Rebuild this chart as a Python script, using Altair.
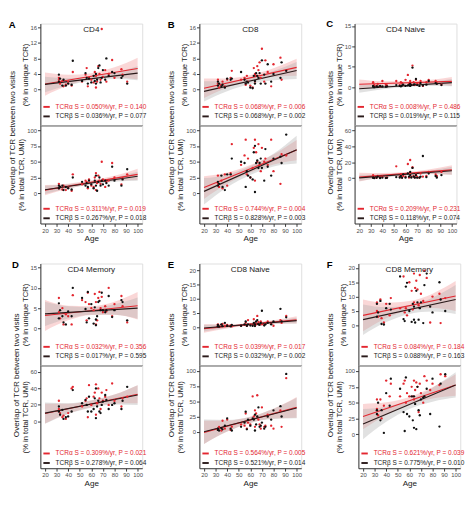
import altair as alt
import pandas as pd

# ---------------- shared values ----------------
AGES = [32, 32, 33, 35, 36, 38, 40, 43, 44, 52, 55, 56, 57, 58, 60, 62, 63,
        64, 64, 65, 66, 67, 68, 69, 70, 72, 73, 75, 78, 80, 86, 87, 91]
FIT_AGES = [20, 100]
BAND_AGES = [20, 40, 60, 80, 100]
X_TICKS = [20, 30, 40, 50, 60, 70, 80, 90, 100]
X_DOMAIN = [16, 104]

PANEL_KEYS = ["A", "B", "C", "D", "E", "F"]
PANEL_NAMES = ["CD4", "CD8", "CD4 Naive", "CD4 Memory", "CD8 Naive", "CD8 Memory"]
Y_TITLE = "Overlap of TCR between two visits"
TOP_SUB = "(% in unique TCR)"
BOT_SUB = "(% in total TCR, UMI)"

# ---------------- A : CD4 ----------------
A_TOP_PTS_A = [2.5, 3.0, 1.5, 2.2, 0.8, 1.2, 2.0, 1.0, 4.5, 2.0, 3.8, 5.5, 0.8, 3.0, 2.5, 1.8, 4.5,
               0.5, 3.5, 2.0, 6.0, 4.0, 2.5, 15.6, 3.2, 5.0, 2.0, 4.0, 7.6, 3.0, 5.2, 3.8, 2.0]
A_TOP_PTS_B = [3.8, 2.0, 2.8, 1.0, 2.5, 1.0, 1.5, 1.2, 7.4, 2.2, 4.2, 3.0, 1.5, 2.8, 1.8, 3.5, 2.2,
               1.5, 4.0, 2.5, 5.5, 6.2, 1.8, 3.0, 5.0, 2.5, 8.0, 3.5, 4.5, 4.2, 3.0, 3.5, 1.5]
A_TOP_FIT_A = [1.4, 5.4]
A_TOP_FIT_B = [1.3, 4.2]
A_TOP_LO_A = [-1.6, 1.0, 2.6, 3.1, 2.6]
A_TOP_HI_A = [4.4, 3.8, 4.2, 5.7, 8.2]
A_TOP_LO_B = [-0.7, 1.1, 2.25, 2.7, 2.4]
A_TOP_HI_B = [3.3, 2.9, 3.25, 4.3, 6.0]
A_TOP_LEGEND = ["TCRα S = 0.050%/yr, P = 0.140", "TCRβ S = 0.036%/yr, P = 0.077"]
A_TOP_TICKS = [0, 4, 8, 12, 16]
A_TOP_DOMAIN = [-9.3, 17]

A_BOT_PTS_A = [8, 15, 10, 6, 12, 5, 9, 4, 30, 14, 20, 18, 8, 22, 12, 10, 25,
               5, 32, 16, 28, 20, 15, 50, 22, 10, 18, 20, 48, 25, 14, 24, 30]
A_BOT_PTS_B = [12, 8, 10, 12, 5, 10, 8, 6, 25, 18, 12, 16, 10, 20, 14, 8, 20,
               12, 28, 4, 18, 25, 12, 20, 14, 20, 16, 12, 42, 20, 12, 22, 38]
A_BOT_FIT_A = [5, 30]
A_BOT_FIT_B = [5.5, 27]
A_BOT_LO_A = [-3, 7.2, 14.5, 19.7, 21]
A_BOT_HI_A = [13, 15.2, 20.5, 27.7, 39]
A_BOT_LO_B = [-1, 7.7, 13.75, 18.4, 20]
A_BOT_HI_B = [12, 14.1, 18.75, 24.8, 34]
A_BOT_LEGEND = ["TCRα S = 0.311%/yr, P = 0.019", "TCRβ S = 0.267%/yr, P = 0.018"]
A_BOT_TICKS = [0, 25, 50, 75, 100]
A_BOT_DOMAIN = [-48, 107.5]

# ---------------- B : CD8 ----------------
B_TOP_PTS_A = [2.5, 1.5, 0.5, 1.0, 2.0, 0.8, 2.5, 3.0, 4.8, 2.5, 3.0, 1.2, 3.5, 2.0, 1.0, 0.5, 5.5,
               4.0, 2.0, 3.5, 6.0, 5.0, 7.0, 3.0, 10.5, 2.0, 7.5, 4.5, 0.8, 6.5, 8.2, 2.5, 4.8]
B_TOP_PTS_B = [2.0, 1.0, 1.5, 0.8, 1.2, 0.5, 2.8, 2.5, 2.8, 4.5, 2.5, 1.5, 2.0, 1.8, 0.5, 0.3, 3.5,
               2.2, 1.5, 4.2, 3.5, 3.0, 4.2, 1.5, 7.5, 3.8, 1.5, 6.5, 2.0, 4.0, 3.0, 7.0, 4.8]
B_TOP_FIT_A = [0.3, 5.7]
B_TOP_FIT_B = [-0.5, 4.9]
B_TOP_LO_A = [-2.2, 0.45, 2.3, 3.25, 3.5]
B_TOP_HI_A = [2.8, 2.85, 3.7, 5.45, 7.9]
B_TOP_LO_B = [-3.1, -0.45, 1.4, 2.35, 2.7]
B_TOP_HI_B = [2.1, 2.15, 3.0, 4.75, 7.1]
B_TOP_LEGEND = ["TCRα S = 0.068%/yr, P = 0.006", "TCRβ S = 0.068%/yr, P = 0.002"]
B_TOP_TICKS = [0, 4, 8, 12, 16]
B_TOP_DOMAIN = [-9.3, 17]

B_BOT_PTS_A = [15, 28, 10, 20, 8, 30, 12, 32, 78, 45, 60, 85, 30, 55, 25, 40, 72,
               20, 85, 65, 50, 78, 45, 35, 72, 50, 55, 45, 85, 35, 15, 62, 60]
B_BOT_PTS_B = [12, 18, 15, 28, 10, 5, 30, 30, 55, 50, 48, 10, 35, 28, 25, 22, 65,
               2, 75, 48, 52, 40, 48, 55, 40, 20, 70, 42, 28, 55, 58, 48, 93]
B_BOT_FIT_A = [9, 68.5]
B_BOT_FIT_B = [3, 69]
B_BOT_LO_A = [-9, 14.9, 32.75, 45.6, 52.5]
B_BOT_HI_A = [27, 32.9, 44.75, 61.6, 84.5]
B_BOT_LO_B = [-18, 9.5, 29, 42.5, 47]
B_BOT_HI_B = [24, 29.5, 43, 62.5, 91]
B_BOT_LEGEND = ["TCRα S = 0.744%/yr, P = 0.004", "TCRβ S = 0.828%/yr, P = 0.003"]
B_BOT_TICKS = [0, 25, 50, 75, 100]
B_BOT_DOMAIN = [-48, 107.5]

# ---------------- C : CD4 Naive ----------------
C_TOP_PTS_A = [1.0, 1.2, 0.5, 0.3, 0.8, 0.2, 1.5, 0.6, 0.4, 1.5, 0.5, 1.2, 1.0, 0.5, 1.8, 3.0, 0.8,
               1.0, 1.5, 0.6, 5.3, 1.2, 0.5, 1.8, 0.8, 1.0, 1.5, 0.3, 1.2, 1.8, 1.5, 1.0, 0.6]
C_TOP_PTS_B = [0.1, 0.3, 0.0, 0.2, 0.1, 0.3, 0.2, 0.1, 0.2, 0.5, 0.3, 0.2, 0.4, 0.6, 0.3, 0.4, 0.5,
               0.3, 0.8, 0.5, 4.8, 0.6, 0.7, 2.0, 0.5, 0.3, 1.0, 0.4, 0.6, 1.5, 1.0, 0.8, 0.5]
C_TOP_FIT_A = [0.7, 1.4]
C_TOP_FIT_B = [-0.4, 1.1]
C_TOP_LO_A = [-0.5, 0.275, 0.65, 0.725, 0.3]
C_TOP_HI_A = [1.9, 1.475, 1.45, 1.725, 2.5]
C_TOP_LO_B = [-1.4, -0.525, 0.05, 0.275, 0.2]
C_TOP_HI_B = [0.6, 0.475, 0.65, 1.175, 2.0]
C_TOP_LEGEND = ["TCRα S = 0.008%/yr, P = 0.486", "TCRβ S = 0.019%/yr, P = 0.115"]
C_TOP_TICKS = [0, 5, 10, 15]
C_TOP_DOMAIN = [-9.4, 15.6]

C_BOT_PTS_A = [2, 4, 1, 0.5, 3, 1, 2, 0.5, 1, 15, 2, 5, 1, 3, 2, 18, 1,
               23, 6, 2, 14, 3, 1, 5, 2, 0.5, 6, 2, 3, 8, 5, 3, 8]
C_BOT_PTS_B = [0.5, 1, 0.3, 0.5, 2, 0.3, 0.8, 0.2, 0.5, 1.5, 1, 3, 0.5, 5, 1, 6, 2,
               8, 4, 1, 13, 2, 1, 4, 0.5, 1, 2, 28, 1.5, 6, 3, 1, 4]
C_BOT_FIT_A = [1.5, 10.5]
C_BOT_FIT_B = [0.5, 9.5]
C_BOT_LO_A = [-4, 0.95, 4, 5.45, 4.5]
C_BOT_HI_A = [7, 6.55, 8, 11.05, 16.5]
C_BOT_LO_B = [-3.5, 0.75, 3.5, 5.25, 4.5]
C_BOT_HI_B = [4.5, 4.75, 6.5, 9.25, 14.5]
C_BOT_LEGEND = ["TCRα S = 0.209%/yr, P = 0.231", "TCRβ S = 0.118%/yr, P = 0.074"]
C_BOT_TICKS = [0, 20, 40, 60]
C_BOT_DOMAIN = [-57, 66.5]

# ---------------- D : CD4 Memory ----------------
D_TOP_PTS_A = [7.5, 4.0, 2.5, 5.0, 1.0, 3.5, 3.0, 1.0, 8.2, 7.0, 6.5, 2.0, 8.8, 6.0, 5.0, 4.5, 8.5,
               1.0, 6.5, 2.0, 7.5, 9.0, 5.0, 7.8, 4.0, 5.5, 4.2, 10.0, 3.0, 6.0, 8.0, 5.5, 1.5]
D_TOP_PTS_B = [6.2, 2.5, 4.5, 3.0, 1.5, 1.0, 4.2, 3.0, 10.0, 7.5, 4.8, 1.5, 9.0, 2.5, 6.0, 1.2, 5.2,
               0.8, 2.2, 3.0, 6.5, 6.8, 4.5, 8.8, 4.5, 4.0, 4.5, 8.0, 2.8, 4.5, 7.0, 6.5, 2.0]
D_TOP_FIT_A = [3.2, 5.6]
D_TOP_FIT_B = [3.6, 5.0]
D_TOP_LO_A = [-0.6, 2.0, 3.3, 3.4, 2.2]
D_TOP_HI_A = [7.0, 5.6, 5.5, 6.6, 9.0]
D_TOP_LO_B = [0.6, 2.45, 3.4, 3.35, 2.4]
D_TOP_HI_B = [6.6, 5.45, 5.2, 5.95, 7.6]
D_TOP_LEGEND = ["TCRα S = 0.032%/yr, P = 0.356", "TCRβ S = 0.017%/yr, P = 0.595"]
D_TOP_TICKS = [0, 5, 10, 15]
D_TOP_DOMAIN = [-9.1, 16]

D_BOT_PTS_A = [25, 15, 10, 5, 7, 3, 10, 40, 42, 18, 25, 28, 5, 44, 20, 30, 35,
               8, 45, 22, 40, 28, 15, 35, 25, 30, 38, 20, 46, 25, 18, 28, 30]
D_BOT_PTS_B = [18, 12, 8, 14, 3, 5, 6, 12, 38, 22, 26, 20, 12, 30, 12, 15, 28,
               4, 40, 18, 25, 12, 10, 20, 24, 32, 26, 15, 20, 22, 15, 25, 42]
D_BOT_FIT_A = [9.5, 33]
D_BOT_FIT_B = [10, 32]
D_BOT_LO_A = [-2.5, 9.4, 17.25, 21.6, 22]
D_BOT_HI_A = [21.5, 21.4, 25.25, 32.6, 44]
D_BOT_LO_B = [-3, 9, 16.5, 20.5, 20]
D_BOT_HI_B = [23, 22, 25.5, 32.5, 44]
D_BOT_LEGEND = ["TCRα S = 0.309%/yr, P = 0.021", "TCRβ S = 0.278%/yr, P = 0.064"]
D_BOT_TICKS = [0, 20, 40, 60]
D_BOT_DOMAIN = [-57, 68]

# ---------------- E : CD8 Naive ----------------
E_TOP_PTS_A = [0.5, 1.0, 0.3, 0.8, 1.2, 0.5, 0.8, 0.6, 0.3, 0.5, 0.8, 1.5, 0.5, 2.5, 1.0, 0.8, 2.8,
               0.5, 1.5, 1.0, 4.0, 1.8, 1.0, 2.0, 1.0, 0.8, 1.5, 2.0, 1.2, 0.5, 2.5, 1.5, 4.0]
E_TOP_PTS_B = [0.3, 0.8, 0.2, 1.0, 0.4, 1.5, 0.5, 0.3, 0.8, 0.5, 1.0, 2.0, 0.5, 1.0, 0.6, 0.5, 1.5,
               0.4, 1.0, 2.0, 2.5, 1.0, 0.8, 1.5, 5.8, 0.6, 1.0, 1.5, 1.0, 2.0, 6.5, 2.0, 3.5]
E_TOP_FIT_A = [-0.5, 2.6]
E_TOP_FIT_B = [-0.3, 2.3]
E_TOP_LO_A = [-2.0, -0.425, 0.65, 1.225, 1.3]
E_TOP_HI_A = [1.0, 0.975, 1.45, 2.425, 3.9]
E_TOP_LO_B = [-1.5, -0.2, 0.7, 1.15, 1.3]
E_TOP_HI_B = [0.9, 0.9, 1.3, 2.15, 3.3]
E_TOP_LEGEND = ["TCRα S = 0.039%/yr, P = 0.017", "TCRβ S = 0.032%/yr, P = 0.002"]
E_TOP_TICKS = [0, 5, 10, 15, 20]
E_TOP_DOMAIN = [-13.5, 22.5]

E_BOT_PTS_A = [3, 5, 8, 2, 18, 5, 20, 3, 8, 12, 10, 30, 5, 15, 12, 58, 25,
               8, 35, 30, 60, 20, 12, 5, 40, 8, 10, 28, 10, 5, 35, 8, 88]
E_BOT_PTS_B = [5, 3, 2, 6, 4, 10, 22, 5, 2, 8, 15, 33, 4, 20, 10, 22, 20,
               2, 28, 12, 25, 40, 8, 10, 15, 5, 8, 25, 20, 35, 42, 25, 95]
E_BOT_FIT_A = [-1, 40]
E_BOT_FIT_B = [0, 39]
E_BOT_LO_A = [-20, 0.25, 14.5, 21.75, 23]
E_BOT_HI_A = [18, 18.25, 24.5, 37.75, 57]
E_BOT_LO_B = [-20, 0.25, 14.5, 20.75, 22]
E_BOT_HI_B = [20, 19.25, 24.5, 37.75, 56]
E_BOT_LEGEND = ["TCRα S = 0.564%/yr, P = 0.005", "TCRβ S = 0.521%/yr, P = 0.014"]
E_BOT_TICKS = [0, 25, 50, 75, 100]
E_BOT_DOMAIN = [-60, 109]

# ---------------- F : CD8 Memory ----------------
F_TOP_PTS_A = [5.0, 8.0, 3.0, 9.0, 2.5, 1.0, 7.5, 3.5, 9.5, 6.0, 17.0, 4.5, 6.0, 3.5, 15.0, 12.0, 5.5,
               18.0, 8.0, 13.0, 15.5, 12.5, 7.0, 17.5, 11.0, 8.5, 19.0, 16.5, 1.0, 10.0, 11.0, 0.8, 9.5]
F_TOP_PTS_B = [3.0, 7.5, 4.5, 8.5, 0.5, 0.3, 6.0, 7.5, 5.5, 17.0, 2.2, 1.5, 13.5, 14.8, 5.0, 1.2, 7.5,
               2.0, 6.5, 1.0, 12.0, 8.0, 2.0, 6.0, 8.0, 0.8, 14.0, 18.0, 6.5, 4.5, 15.0, 9.0, 5.0]
F_TOP_FIT_A = [3.5, 10.2]
F_TOP_FIT_B = [2.0, 9.0]
F_TOP_LO_A = [-2.0, 2.475, 5.25, 6.025, 5.0]
F_TOP_HI_A = [9.0, 7.875, 8.45, 11.025, 15.4]
F_TOP_LO_B = [-3.3, 1.15, 4.0, 4.85, 4.0]
F_TOP_HI_B = [7.3, 6.35, 7.0, 9.65, 14.0]
F_TOP_LEGEND = ["TCRα S = 0.084%/yr, P = 0.184", "TCRβ S = 0.088%/yr, P = 0.163"]
F_TOP_TICKS = [0, 5, 10, 15, 20]
F_TOP_DOMAIN = [-13.9, 21.5]

F_BOT_PTS_A = [55, 40, 30, 55, 25, 45, 85, 60, 80, 60, 80, 85, 50, 65, 60, 75, 60,
               85, 55, 70, 82, 75, 35, 80, 65, 50, 92, 85, 70, 80, 78, 95, 92]
F_BOT_PTS_B = [38, 32, 50, 22, 38, 2, 65, 45, 88, 72, 35, 5, 90, 32, 28, 60, 22,
               10, 60, 48, 8, 75, 38, 30, 55, 58, 60, 72, 32, 88, 12, 80, 95]
F_BOT_FIT_A = [28, 78]
F_BOT_FIT_B = [16, 78]
F_BOT_LO_A = [8, 30.5, 47, 56.5, 61]
F_BOT_HI_A = [48, 50.5, 59, 74.5, 95]
F_BOT_LO_B = [-8, 19.5, 40, 51.5, 58]
F_BOT_HI_B = [40, 43.5, 54, 73.5, 98]
F_BOT_LEGEND = ["TCRα S = 0.621%/yr, P = 0.039", "TCRβ S = 0.775%/yr, P = 0.010"]
F_BOT_TICKS = [0, 25, 50, 75, 100]
F_BOT_DOMAIN = [-54, 109]

# ---------------- styling ----------------
FONT = "Liberation Sans"
RED = "#e3262f"
DARK = "#2a1a1a"
PT_DARK = "#111111"
PINK = "#f08c8c"
GREY = "#a8a8a8"
AXIS_COL = "#333333"
LABEL_COL = "#4d4d4d"

WIDTH = 107
ROW_HEIGHTS = [(107, 103), (107, 108)]


def indep(ch):
    return (ch.resolve_scale(color="independent", fill="independent", stroke="independent")
              .resolve_legend(color="independent", fill="independent", stroke="independent"))


def subplot(key, height, top, name=None):
    g = globals()
    leg = g[key + "_LEGEND"]
    n = len(AGES)
    pts = pd.DataFrame({"age": AGES + AGES,
                        "v": g[key + "_PTS_A"] + g[key + "_PTS_B"],
                        "s": [leg[0]] * n + [leg[1]] * n})
    fit = pd.DataFrame({"age": FIT_AGES + FIT_AGES,
                        "v": g[key + "_FIT_A"] + g[key + "_FIT_B"],
                        "s": [leg[0]] * 2 + [leg[1]] * 2})
    band = pd.DataFrame({"age": BAND_AGES + BAND_AGES,
                         "lo": g[key + "_LO_A"] + g[key + "_LO_B"],
                         "hi": g[key + "_HI_A"] + g[key + "_HI_B"],
                         "s": [leg[0]] * 5 + [leg[1]] * 5})

    yaxis = alt.Axis(values=g[key + "_TICKS"], title=TOP_SUB if top else BOT_SUB,
                     grid=False, tickSize=3, labelFontSize=6.2, titleFontSize=8,
                     titleFontWeight="normal", labelPadding=1, titlePadding=1,
                     domainColor=AXIS_COL, tickColor=AXIS_COL, labelColor=LABEL_COL,
                     titleColor="#222222", labelFont=FONT, titleFont=FONT,
                     labelOverlap=False)
    if top:
        xaxis = alt.Axis(labels=False, ticks=False, title=None, grid=False,
                         domainColor=AXIS_COL, domainWidth=1.2)
    else:
        xaxis = alt.Axis(values=X_TICKS, title="Age", grid=False, tickSize=3,
                         labelFontSize=6.2, titleFontSize=8.5, titleFontWeight="normal",
                         labelPadding=1, titlePadding=1, domainColor=AXIS_COL,
                         tickColor=AXIS_COL, labelColor=LABEL_COL, titleColor="#222222",
                         labelFont=FONT, titleFont=FONT, labelOverlap=False)

    xs = alt.Scale(domain=X_DOMAIN, nice=False, zero=False)
    ys = alt.Scale(domain=g[key + "_DOMAIN"], nice=False, zero=False)

    band_l = alt.Chart(band).mark_area(opacity=0.35, interpolate="monotone", clip=True).encode(
        x=alt.X("age:Q", scale=xs, axis=xaxis),
        y=alt.Y("lo:Q", scale=ys, axis=yaxis),
        y2="hi:Q",
        fill=alt.Fill("s:N", scale=alt.Scale(domain=leg, range=[PINK, GREY]), legend=None),
        detail="s:N",
    )
    line_l = alt.Chart(fit).mark_line(strokeWidth=1.2, clip=True).encode(
        x=alt.X("age:Q", scale=xs, axis=xaxis),
        y=alt.Y("v:Q", scale=ys, axis=yaxis),
        stroke=alt.Stroke("s:N", scale=alt.Scale(domain=leg, range=[RED, DARK]),
                          legend=alt.Legend(
                              orient="none", legendX=2, legendY=height - (24 if top else 20),
                              title=None, labelFontSize=6.8, labelFont=FONT, labelLimit=200,
                              symbolType="stroke", symbolStrokeWidth=2, symbolSize=45,
                              rowPadding=1, padding=0, labelOffset=5,
                              labelColor=alt.ExprRef(
                                  "indexof(datum.label, 'TCRα') === 0 ? '%s' : '%s'" % (RED, "#222222")),
                          )),
    )
    pts_l = alt.Chart(pts).mark_circle(size=6, opacity=1, clip=True).encode(
        x=alt.X("age:Q", scale=xs, axis=xaxis),
        y=alt.Y("v:Q", scale=ys, axis=yaxis),
        color=alt.Color("s:N", scale=alt.Scale(domain=leg, range=[RED, PT_DARK]), legend=None),
    )
    layers = [band_l, line_l, pts_l]
    if name is not None:
        name_l = alt.Chart(pd.DataFrame({"t": [name]})).mark_text(
            baseline="top", align="center", fontSize=8.5, font=FONT, color="#222222"
        ).encode(x=alt.value(WIDTH / 2), y=alt.value(2), text="t:N")
        layers.append(name_l)
    return indep(alt.layer(*layers).properties(width=WIDTH, height=height))


def panel(idx, row):
    letter = PANEL_KEYS[idx]
    th, bh = ROW_HEIGHTS[row]
    top = subplot(letter + "_TOP", th, True, PANEL_NAMES[idx])
    bot = subplot(letter + "_BOT", bh, False)
    inner = indep(alt.vconcat(top, bot, spacing=0, bounds="flush").properties(
        title=alt.TitleParams(Y_TITLE, orient="left", anchor="middle", fontSize=8.5,
                              fontWeight="normal", font=FONT, color="#222222", offset=1)))
    wrap = indep(alt.vconcat(inner).properties(
        title=alt.TitleParams(letter, anchor="start", fontSize=10, fontWeight="bold",
                              font=FONT, color="#000000", offset=-7)))
    return wrap


row1 = indep(alt.hconcat(panel(0, 0), panel(1, 0), panel(2, 0), spacing=20))
row2 = indep(alt.hconcat(panel(3, 1), panel(4, 1), panel(5, 1), spacing=20))
chart = indep(alt.vconcat(row1, row2, spacing=17)).properties(
    padding={"left": 0, "top": 0, "right": 0, "bottom": 0}
).configure_view(stroke=None).configure(font=FONT, background="white")

chart.save("out.html", embed_options={"renderer": "svg", "actions": False})
